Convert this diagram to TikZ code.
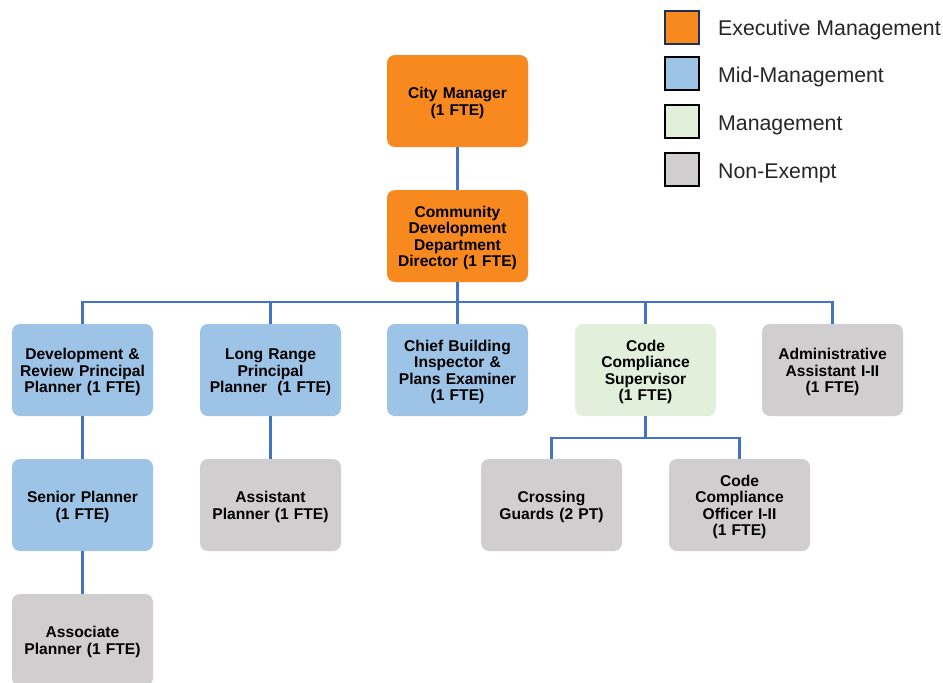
\documentclass[tikz,border=0pt]{standalone}
\usepackage{fontspec}
\setmainfont{Liberation Sans}
\definecolor{execorange}{RGB}{247,137,30}
\definecolor{midblue}{RGB}{157,195,230}
\definecolor{mgmtgreen}{RGB}{226,239,218}
\definecolor{nongray}{RGB}{208,206,206}
\definecolor{linkblue}{RGB}{68,114,196}
\definecolor{navy}{RGB}{31,48,85}
\begin{document}
\begin{tikzpicture}[x=1pt,y=-1pt,
  orgbox/.style={rounded corners=8pt, minimum width=141pt, minimum height=92pt,
    text width=138pt, align=center, inner sep=0pt,
    font=\fontsize{15.6}{16.5}\selectfont\bfseries,
    execute at begin node={\rule{0pt}{15.5pt}}},
  exec/.style={orgbox, fill=execorange},
  mid/.style={orgbox, fill=midblue},
  mgmt/.style={orgbox, fill=mgmtgreen},
  nonex/.style={orgbox, fill=nongray},
  link/.style={draw=linkblue, line width=2.6pt},
  keysq/.style={minimum width=34pt, minimum height=33pt, inner sep=0pt, line width=2.4pt},
  keytext/.style={anchor=west, inner sep=0pt, font=\fontsize{21.3}{24}\selectfont, text=black!85}
]
\clip (0,0) rectangle (943,683);
\fill[white] (0,0) rectangle (943,683);

% top of the chart
\node[exec] (cm)  at (457.5,101) {City Manager\\(1 FTE)};
\node[exec] (dir) at (457.5,236) {Community\\Development\\Department\\Director (1 FTE)};

% second row
\node[mid]   (dev)   at (82.5,370)  {Development \&\\Review Principal\\Planner (1 FTE)};
\node[mid]   (lrp)   at (270.5,370) {Long Range\\Principal\\Planner~ (1 FTE)};
\node[mid]   (cbi)   at (457.5,370) {Chief Building\\Inspector \&\\Plans Examiner\\(1 FTE)};
\node[mgmt]  (ccs)   at (645.5,370) {Code\\Compliance\\Supervisor\\(1 FTE)};
\node[nonex] (adm)   at (832.5,370) {Administrative\\Assistant I-II\\(1 FTE)};

% third row
\node[mid]   (sp)    at (82.5,505)  {Senior Planner\\(1 FTE)};
\node[nonex] (ap)    at (270.5,505) {Assistant\\Planner (1 FTE)};
\node[nonex] (cg)    at (551.5,505) {Crossing\\Guards (2 PT)};
\node[nonex] (cco)   at (739.5,505) {Code\\Compliance\\Officer I-II\\(1 FTE)};

% fourth row
\node[nonex] (asp)   at (82.5,640)  {Associate\\Planner (1 FTE)};

% connectors
\coordinate (bus) at (457.5,302);
\coordinate (subbus) at (645.5,438);
\draw[link] (cm.south) -- (dir.north);
\draw[link] (dir.south) -- (bus);
\foreach \n in {dev,lrp,cbi,ccs,adm}
  \draw[link] (bus) -| (\n.north);
\draw[link] (dev.south) -- (sp.north);
\draw[link] (sp.south) -- (asp.north);
\draw[link] (lrp.south) -- (ap.north);
\draw[link] (ccs.south) -- (subbus);
\draw[link] (subbus) -| (cg.north);
\draw[link] (subbus) -| (cco.north);

% legend
\node[keysq, fill=execorange, draw=navy] (k1) at (682,27.5) {};
\node[keysq, fill=midblue,    draw=black] (k2) at (682,73.5) {};
\node[keysq, fill=mgmtgreen,  draw=black] (k3) at (682,121.5) {};
\node[keysq, fill=nongray,    draw=black] (k4) at (682,169.5) {};
\node[keytext] (t1) at (718,30)  {Executive Management};
\node[keytext] (t2) at (718,77)  {Mid-Management};
\node[keytext] (t3) at (718,125) {Management};
\node[keytext] (t4) at (718,173) {Non-Exempt};
\end{tikzpicture}
\end{document}
